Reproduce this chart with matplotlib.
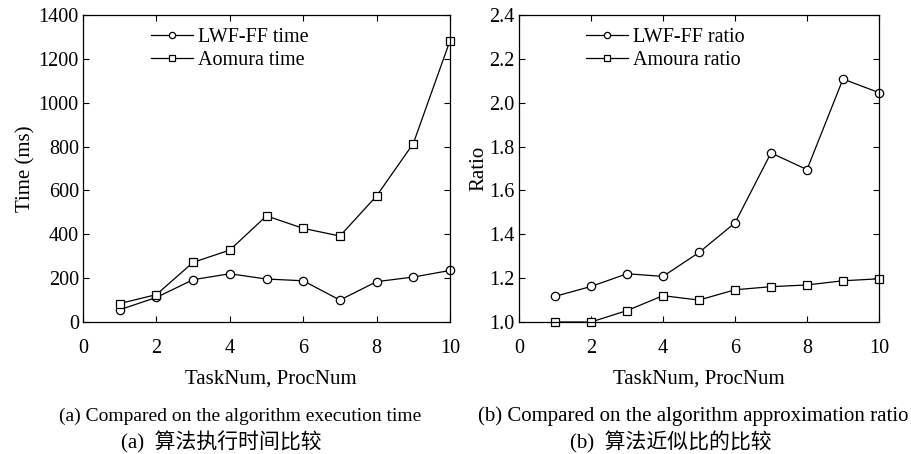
import matplotlib
matplotlib.use('Agg')
import matplotlib.pyplot as plt

# data
x = [1, 2, 3, 4, 5, 6, 7, 8, 9, 10]
lwf_time = [56, 112, 193, 220, 196, 188, 100, 184, 205, 235]
aomura_time = [84, 125, 272, 328, 484, 427, 392, 575, 814, 1283]
lwf_ratio = [1.117, 1.162, 1.220, 1.208, 1.317, 1.452, 1.771, 1.695, 2.108, 2.046]
amoura_ratio = [1.0, 1.0, 1.052, 1.120, 1.100, 1.147, 1.161, 1.169, 1.188, 1.197]

plt.rcParams['font.family'] = ['Liberation Serif', 'Noto Sans CJK SC']
plt.rcParams['font.size'] = 14.5

W, H = 911, 454
fig = plt.figure(figsize=(W / 100, H / 100), dpi=100)


def px_ax(l, t, r, b):
    return [l / W, 1 - b / H, (r - l) / W, (b - t) / H]


ax1 = fig.add_axes(px_ax(83, 15, 450, 322))
ax2 = fig.add_axes(px_ax(519, 15, 879, 322))

line_kw = dict(color='black', lw=0.9, markersize=6, markerfacecolor='white',
               markeredgewidth=0.9, clip_on=False)

ax1.plot(x, lwf_time, marker='o', label='LWF-FF time', **line_kw)
ax1.plot(x, aomura_time, marker='s', label='Aomura time', **line_kw)
ax1.set_xlim(0, 10)
ax1.set_ylim(0, 1400)
ax1.set_yticks(range(0, 1401, 200))
ax1.set_ylabel('Time (ms)', fontsize=15, labelpad=2)

ax2.plot(x, lwf_ratio, marker='o', label='LWF-FF ratio', **line_kw)
ax2.plot(x, amoura_ratio, marker='s', label='Amoura ratio', **line_kw)
ax2.set_xlim(0, 10)
ax2.set_ylim(1.0, 2.4)
ax2.set_yticks([1.0, 1.2, 1.4, 1.6, 1.8, 2.0, 2.2, 2.4])
ax2.set_yticklabels(['%.1f' % v for v in [1.0, 1.2, 1.4, 1.6, 1.8, 2.0, 2.2, 2.4]])
ax2.set_ylabel('Ratio', fontsize=15, labelpad=1)

for ax in (ax1, ax2):
    ax.set_xticks([0, 2, 4, 6, 8, 10])
    ax.tick_params(direction='in', top=True, right=True, length=4, width=0.8)
    ax.tick_params(axis='x', pad=12)
    ax.tick_params(axis='y', pad=3)
    for s in ax.spines.values():
        s.set_linewidth(0.9)
    ax.legend(loc='upper left', bbox_to_anchor=(0.15, 1.0), frameon=False,
              handlelength=2.1, handletextpad=0.25, labelspacing=0.2,
              borderaxespad=0.25, markerscale=0.75, fontsize=14.5)


def ftext(px, py, s, **kw):
    fig.text(px / W, 1 - py / H, s, ha='center', va='center', **kw)


ftext(271, 379, 'TaskNum, ProcNum', fontsize=15)
ftext(699, 379, 'TaskNum, ProcNum', fontsize=15)
ftext(240, 416, '(a) Compared on the algorithm execution time', fontsize=14)
ftext(693, 416, '(b) Compared on the algorithm approximation ratio', fontsize=15)
ftext(221, 442, '(a)  算法执行时间比较', fontsize=15)
ftext(671, 442, '(b)  算法近似比的比较', fontsize=15)

fig.savefig('out.png', dpi=100)
